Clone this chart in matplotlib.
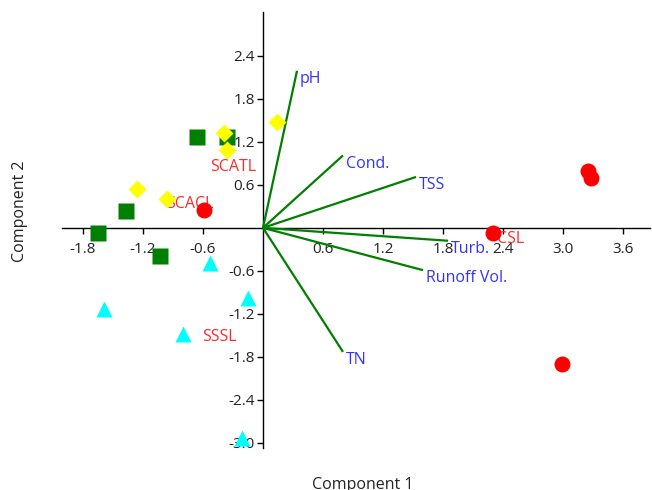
import matplotlib
matplotlib.use("Agg")
import matplotlib.pyplot as plt

plt.rcParams['font.family'] = ['Open Sans', 'DejaVu Sans']

# Scores per group
sq_x = [-1.65, -1.37, -1.03, -0.66, -0.36]
sq_y = [-0.07, 0.24, -0.39, 1.26, 1.27]
dia_x = [-1.26, -0.96, -0.39, -0.36, 0.14]
dia_y = [0.54, 0.40, 1.32, 1.08, 1.48]
circ_x = [-0.59, 2.30, 3.25, 3.28, 2.99]
circ_y = [0.25, -0.07, 0.79, 0.69, -1.90]
tri_x = [-0.53, -0.15, -1.59, -0.80, -0.21]
tri_y = [-0.49, -0.98, -1.13, -1.48, -2.93]

# Loadings (biplot vectors)
var_names = ['pH', 'Cond.', 'TSS', 'Turb.', 'Runoff Vol.', 'TN']
var_x = [0.34, 0.80, 1.53, 1.85, 1.60, 0.80]
var_y = [2.19, 1.01, 0.71, -0.18, -0.59, -1.73]

# Group labels
group_names = ['SCATL', 'SCACL', 'SSSL', 'CSL']
group_x = [-0.53, -0.97, -0.61, 2.34]
group_y = [0.855, 0.335, -1.52, -0.15]

xticks = [-1.8, -1.2, -0.6, 0.6, 1.2, 1.8, 2.4, 3.0, 3.6]
yticks = [2.4, 1.8, 1.2, 0.6, -0.6, -1.2, -1.8, -2.4, -3.0]

fig = plt.figure(figsize=(6.52, 4.90), dpi=100)
ax = fig.add_axes([62/652, 42/490, 588/652, 436/490])
ax.set_xlim(-2.01, 3.87)
ax.set_ylim(-3.07, 3.01)

for s in ['top', 'right']:
    ax.spines[s].set_visible(False)
ax.spines['left'].set_position(('data', 0))
ax.spines['bottom'].set_position(('data', 0))
for s in ['left', 'bottom']:
    ax.spines[s].set_linewidth(1.0)
    ax.spines[s].set_color('black')

ax.set_xticks(xticks)
ax.set_xticklabels([f"{v:.1f}" for v in xticks])
ax.set_yticks(yticks)
ax.set_yticklabels([f"{v:.1f}" for v in yticks])
ax.tick_params(axis='x', direction='out', length=4, width=1, pad=6,
               labelsize=11, labelcolor='#222222')
ax.tick_params(axis='y', direction='out', length=4, width=1, pad=2,
               labelsize=11, labelcolor='#222222')

# vectors
for name, vx, vy in zip(var_names, var_x, var_y):
    ax.plot([0, vx], [0, vy], color='#007f00', lw=1.6, zorder=3,
            solid_capstyle='butt')
    ax.annotate(name, (vx, vy), xytext=(2.2, -6.0), textcoords='offset points',
                ha='left', va='center', color='#3333ff', fontsize=11.5, zorder=3.5)

for name, gx, gy in zip(group_names, group_x, group_y):
    ax.text(gx, gy, name, ha='left', va='center', color='#ff2a2a',
            fontsize=11.5, zorder=3.5)

ax.plot(sq_x, sq_y, 's', color='#007f00', ms=11.5, mec='none', zorder=4)
ax.plot(dia_x, dia_y, 'D', color='#ffff00', ms=9.3, mec='none', zorder=4)
ax.plot(circ_x, circ_y, 'o', color='#ff0000', ms=11.5, mec='none', zorder=4)
ax.plot(tri_x, tri_y, '^', color='#00ffff', ms=11.5, mec='none', zorder=4)

fig.text(363/652, 13/490, 'Component 1', ha='center', va='top',
         fontsize=11.5, color='#222222')
fig.text(20/652, (490-211)/490, 'Component 2', ha='center', va='center',
         rotation=90, fontsize=11.5, color='#222222')

fig.savefig('out.png', dpi=100)
